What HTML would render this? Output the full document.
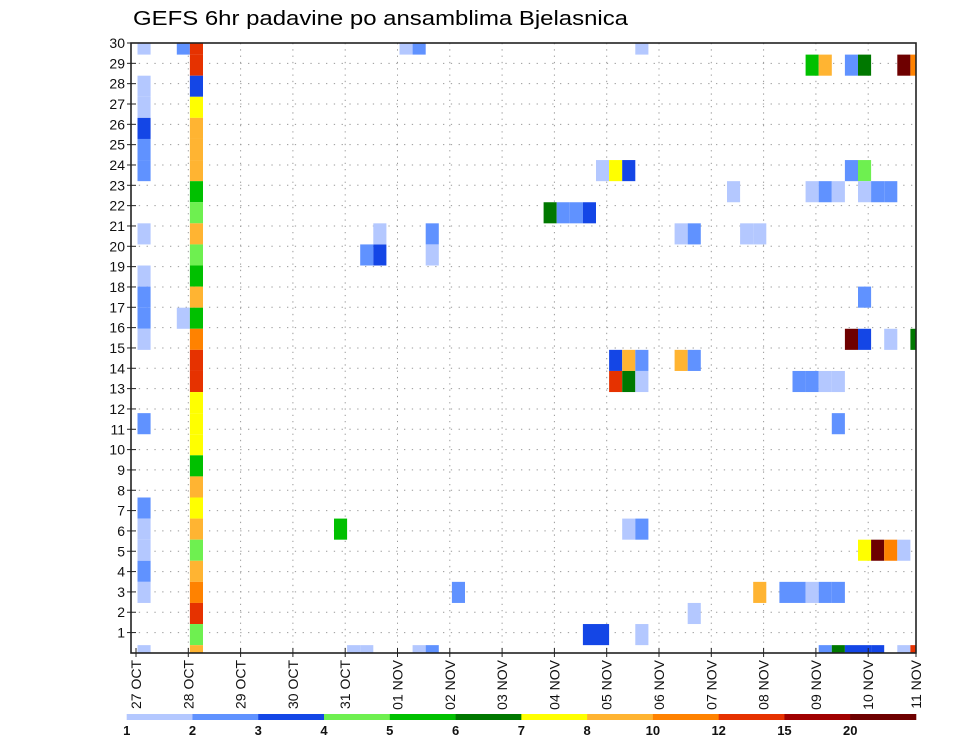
<!DOCTYPE html>
<html><head><meta charset="utf-8"><style>
html,body{margin:0;padding:0;background:#fff;}
svg{display:block;font-family:"Liberation Sans",sans-serif;}
</style></head><body>
<svg id="chart" width="960" height="742" viewBox="0 0 960 742" xmlns="http://www.w3.org/2000/svg">
<text x="133" y="25" font-size="20" textLength="495" lengthAdjust="spacingAndGlyphs">GEFS 6hr padavine po ansamblima Bjelasnica</text>
<g id="grid"></g>
<g id="cells"></g>
<g id="axes"></g>
<g id="legend"></g>
</svg>
<script>
const dayLabels = ["27 OCT","28 OCT","29 OCT","30 OCT","31 OCT","01 NOV","02 NOV","03 NOV","04 NOV","05 NOV","06 NOV","07 NOV","08 NOV","09 NOV","10 NOV","11 NOV"];
const memberTicks = [1,2,3,4,5,6,7,8,9,10,11,12,13,14,15,16,17,18,19,20,21,22,23,24,25,26,27,28,29,30];
const legendLabels = ["1","2","3","4","5","6","7","8","10","12","15","20"];
const binColors = ["#b4c8ff","#6092ff","#1446e6","#6ef050","#00c000","#007800","#ffff00","#ffb432","#ff8200","#e63200","#a00000","#6e0000"];
// cells: 6-hour step index, ensemble member, precipitation bin index
const cellStep = [0,0,0,0,0,0,0,0,0,0,0,0,0,0,0,0,0,0,
3,3,
4,4,4,4,4,4,4,4,4,4,4,4,4,4,4,4,4,4,4,4,4,4,4,4,4,4,4,4,4,4,
15,16,17,17,18,18,20,21,21,22,22,22,24,31,32,33,34,34,35,35,36,37,36,37,38,36,37,38,37,38,38,38,
41,42,41,42,46,47,45,42,47,49,50,51,52,53,50,51,52,53,53,
51,52,54,55,58,59,54,55,51,52,53,55,56,57,55,54,55,57,59,
55,56,57,58,52,53,54,55,56,58,59];
const cellMember = [30,28,27,26,25,24,21,19,18,17,16,12,8,7,6,5,4,1,
30,17,
30,29,28,27,26,25,24,23,22,21,20,19,18,17,16,15,14,13,12,11,10,9,8,7,6,5,4,3,2,1,
7,1,1,20,20,21,30,30,1,1,21,20,4,22,22,22,22,2,2,24,24,24,15,15,15,14,14,14,7,7,2,30,
15,15,21,21,21,21,23,3,4,4,4,4,4,4,14,14,14,14,12,
29,29,29,29,29,29,24,24,23,23,23,23,23,23,18,16,16,16,16,
6,6,6,6,1,1,1,1,1,1,1];
const cellBin = [0,0,0,2,1,1,0,0,1,1,0,1,1,0,0,1,0,0,
1,0,
9,9,2,6,7,7,7,4,3,7,3,4,7,4,8,9,9,6,6,6,4,7,6,7,3,7,8,9,3,7,
4,0,0,1,2,0,0,1,0,1,1,0,1,5,1,1,2,2,2,0,6,2,2,7,1,9,5,0,0,1,0,0,
7,1,0,1,0,0,0,0,7,1,1,0,1,1,1,1,0,0,1,
4,7,1,5,11,8,1,3,0,1,0,0,1,1,1,11,2,0,5,
6,11,8,0,1,5,2,2,2,0,9];

const NS = "http://www.w3.org/2000/svg";
const PL = 131, PR = 916, PT = 43, PB = 653;
function mk(tag, attrs, parent){const e=document.createElementNS(NS,tag);for(const k in attrs)e.setAttribute(k,attrs[k]);parent.appendChild(e);return e;}
// axis functions
function xDay(d){return 136 + 52.3*d;}
function yMember(r){return PT + (30-r)*20.33;}
function xCell(s){return 137.5 + 13.1*s;}
function yCell(r){return 75.7 + (28-r)*21.09;}
const CW = 13.1, CH = 21.09;

const grid = document.getElementById('grid');
for(let d=1; d<dayLabels.length-1; d++){
  const l = mk('line',{x1:xDay(d),x2:xDay(d),y1:PT,y2:PB,stroke:'#999','stroke-width':1,'stroke-dasharray':'1.3 5'},grid);
  
  
}
for(let i=0;i<memberTicks.length-1;i++){
  const y=yMember(memberTicks[i]);
  const l = mk('line',{x1:PL,x2:PR,y1:y,y2:y,stroke:'#999','stroke-width':1,'stroke-dasharray':'1.3 6.5'},grid);
  
  
}

const cells = document.getElementById('cells');
for(let i=0;i<cellStep.length;i++){
  let x0 = xCell(cellStep[i]), x1 = x0+CW;
  let y0 = yCell(cellMember[i]), y1 = y0+CH;
  x0=Math.max(x0,PL); x1=Math.min(x1,PR); y0=Math.max(y0,PT); y1=Math.min(y1,PB);
  if(x1<=x0||y1<=y0) continue;
  const r = mk('rect',{x:x0,y:y0,width:x1-x0,height:y1-y0,fill:binColors[cellBin[i]]},cells);
  
  
}

const axes = document.getElementById('axes');
const frame = mk('rect',{x:PL,y:PT,width:PR-PL,height:PB-PT,fill:'none',stroke:'#222','stroke-width':1.6},axes);


for(const r of memberTicks){
  const y=yMember(r);
  const t = mk('line',{x1:PL-4,x2:PL+5,y1:y,y2:y,stroke:'#222','stroke-width':1},axes);
  
  
  const tx = mk('text',{x:PL-6,y:y+5,'font-size':14,'text-anchor':'end',fill:'#111'},axes);
  tx.textContent = r;
  
  
}
for(let d=0; d<dayLabels.length; d++){
  const x = d===dayLabels.length-1 ? PR : xDay(d);
  const t = mk('line',{x1:x,x2:x,y1:PB-5,y2:PB+4,stroke:'#222','stroke-width':1},axes);
  
  
  const tx = mk('text',{x:0,y:0,'font-size':14,'text-anchor':'end',fill:'#111',transform:'translate('+(x+5)+','+(PB+7)+') rotate(-90)'},axes);
  tx.textContent = dayLabels[d];
  
  
}

const legend = document.getElementById('legend');
const LX0 = 126.7, LW = (916-126.7)/binColors.length;
for(let i=0;i<binColors.length;i++){
  const r = mk('rect',{x:LX0+i*LW,y:714,width:LW+0.3,height:6,fill:binColors[i]},legend);
  
  
}
for(let i=0;i<legendLabels.length;i++){
  const t = mk('text',{x:LX0+i*LW,y:735,'font-size':13,'font-weight':'bold','text-anchor':'middle',fill:'#111'},legend);
  t.textContent = legendLabels[i];
  
  
}
</script>
</body></html>
